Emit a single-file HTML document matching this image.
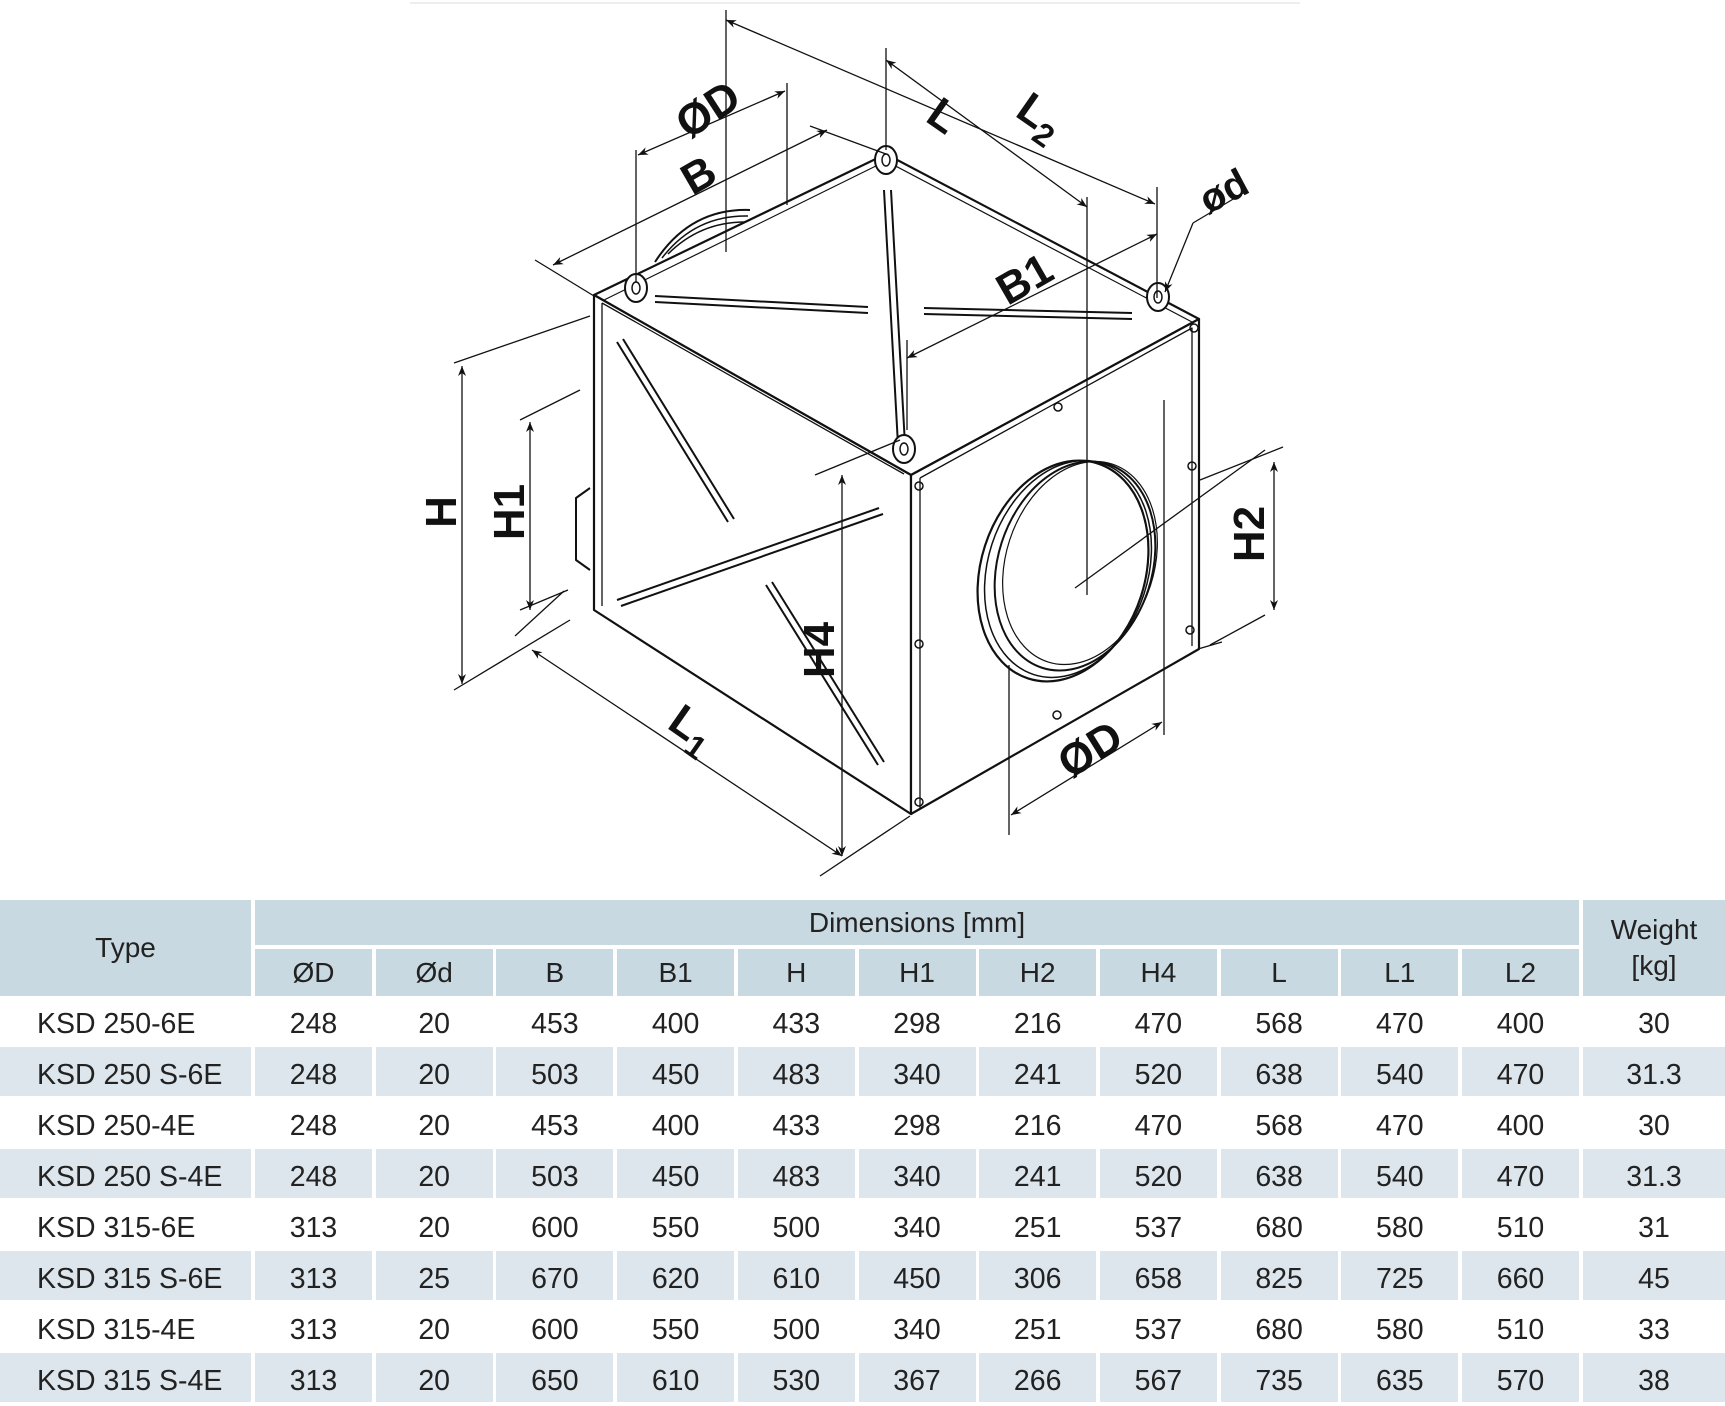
<!DOCTYPE html>
<html><head><meta charset="utf-8"><style>
body{margin:0;background:#fff;width:1725px;height:1406px;overflow:hidden;font-family:"Liberation Sans",Arial,sans-serif;}
svg{position:absolute;left:0;top:0}
.t{position:absolute;left:0;top:0;width:1725px;height:1406px}
.c{position:absolute;display:flex;align-items:center;justify-content:center;font-size:28px;color:#222}
.r{font-size:28.5px;padding-top:8px;box-sizing:border-box}
</style></head><body>
<svg width="1725" height="890" viewBox="0 0 1725 890">
<defs><marker id="a" viewBox="0 0 10 10" refX="10" refY="5" markerWidth="14" markerHeight="10" orient="auto-start-reverse" markerUnits="userSpaceOnUse"><path d="M0,1 L10,5 L0,9 L3,5Z" fill="#111"/></marker></defs>
<line x1="410" y1="3" x2="1300" y2="3" stroke="#eee" stroke-width="2"/>
<g fill="none" stroke="#111" stroke-width="2.2" stroke-linejoin="round">
<path d="M655,262 Q690,208 750,210" stroke-width="2"/><path d="M662,258 Q695,215 748,216" stroke-width="1.5"/><path d="M668,254 Q700,222 745,222" stroke-width="1.5"/>
<path d="M594,295 L886,154 L1199,319 L911,475 Z" fill="#fff"/>
<path d="M600,302 L886,161 L1192,322" stroke-width="1.2"/>
<path d="M594,295 L911,475 L911,814 L594,610 Z" fill="#fff"/>
<path d="M602,303 L904,474 M602,303 L602,606" stroke-width="1.3"/>
<path d="M911,475 L1199,319 L1199,649 L911,814 Z" fill="#fff"/>
<path d="M920,478 L1192,328 L1192,646 M920,478 L920,808" stroke-width="1.3"/>
<path d="M590,488 L576,498 L576,560 L590,570" stroke-width="2"/>
<g stroke-width="2">
<path d="M655,296 L868,307 M655,302 L868,313"/>
<path d="M924,308 L1132,313 M924,314 L1132,319"/>
<path d="M884,190 L898,445 M891,190 L905,445"/>
<path d="M617,342 L728,522 M623,339 L734,519"/>
<path d="M617,600 L879,508 M621,606 L883,514"/>
<path d="M766,585 L878,765 M772,582 L884,762"/>
</g>
<g stroke-width="2" fill="#fff">
<ellipse cx="636" cy="288" rx="11" ry="14"/><ellipse cx="886" cy="160" rx="11" ry="14"/><ellipse cx="1158" cy="297" rx="11" ry="14"/><ellipse cx="904" cy="449" rx="11" ry="14"/>
</g>
<g stroke-width="1.5"><ellipse cx="636" cy="288" rx="4" ry="6"/><ellipse cx="886" cy="160" rx="4" ry="6"/><ellipse cx="1158" cy="297" rx="4" ry="6"/><ellipse cx="904" cy="449" rx="4" ry="6"/></g>
<g stroke-width="1.5"><circle cx="1194" cy="328" r="4"/><circle cx="1058" cy="407" r="4"/><circle cx="1192" cy="466" r="4"/><circle cx="1190" cy="630" r="4"/><circle cx="1057" cy="715" r="4"/><circle cx="919" cy="486" r="4"/><circle cx="919" cy="644" r="4"/><circle cx="919" cy="802" r="4"/></g>
<ellipse cx="1063" cy="571" rx="82" ry="113" transform="rotate(18 1063 571)" stroke-width="2.2"/>
<ellipse cx="1068" cy="569" rx="80" ry="111" transform="rotate(18 1068 569)" stroke-width="1.5"/>
<ellipse cx="1075" cy="566" rx="77" ry="107" transform="rotate(18 1075 566)" stroke-width="2"/>
<ellipse cx="1080" cy="563" rx="74" ry="104" transform="rotate(18 1080 563)" stroke-width="1.2"/>
</g>
<g stroke="#111" stroke-width="1.3" fill="none">
<line x1="454" y1="363" x2="590" y2="316"/><line x1="454" y1="690" x2="570" y2="620"/>
<line x1="462" y1="366" x2="462" y2="684" marker-start="url(#a)" marker-end="url(#a)"/>
<line x1="520" y1="420" x2="580" y2="390"/><line x1="520" y1="610" x2="568" y2="590"/>
<line x1="530" y1="422" x2="530" y2="610" marker-start="url(#a)" marker-end="url(#a)"/>
<line x1="564" y1="591" x2="515" y2="636"/><line x1="910" y1="816" x2="820" y2="876"/>
<line x1="532" y1="650" x2="842" y2="856" marker-start="url(#a)" marker-end="url(#a)"/>
<line x1="815" y1="475" x2="900" y2="440"/>
<line x1="842" y1="475" x2="842" y2="856" marker-start="url(#a)" marker-end="url(#a)"/>
<line x1="1198" y1="649" x2="1222" y2="642"/><line x1="1210" y1="645" x2="1265" y2="615"/><line x1="1200" y1="480" x2="1283" y2="447"/>
<line x1="1274" y1="462" x2="1274" y2="610" marker-start="url(#a)" marker-end="url(#a)"/>
<line x1="1009" y1="665" x2="1009" y2="835"/><line x1="1164" y1="400" x2="1164" y2="735"/>
<line x1="1011" y1="815" x2="1162" y2="722" marker-start="url(#a)" marker-end="url(#a)"/>
<line x1="1075" y1="588" x2="1265" y2="450"/><line x1="1087" y1="197" x2="1087" y2="595"/>
<line x1="726" y1="10" x2="726" y2="252"/><line x1="636" y1="150" x2="636" y2="282"/>
<line x1="787" y1="83" x2="787" y2="205"/>
<line x1="638" y1="155" x2="785" y2="91" marker-start="url(#a)" marker-end="url(#a)"/>
<line x1="535" y1="260" x2="594" y2="296"/>
<line x1="553" y1="265" x2="827" y2="130" marker-start="url(#a)" marker-end="url(#a)"/>
<line x1="810" y1="126" x2="886" y2="154"/>
<line x1="886" y1="48" x2="886" y2="150"/>
<line x1="726" y1="20" x2="1155" y2="204" marker-start="url(#a)" marker-end="url(#a)"/>
<line x1="886" y1="60" x2="1087" y2="207" marker-start="url(#a)" marker-end="url(#a)"/>
<line x1="1157" y1="187" x2="1157" y2="298"/>
<line x1="907" y1="358" x2="1157" y2="234" marker-start="url(#a)" marker-end="url(#a)"/>
<line x1="907" y1="340" x2="907" y2="430"/>
<line x1="1245" y1="192" x2="1193" y2="223"/><line x1="1193" y1="223" x2="1165" y2="292" marker-end="url(#a)"/>
</g>
<g font-family="Liberation Sans,Arial,sans-serif" font-weight="bold" font-size="44" fill="#111" text-anchor="middle">
<text transform="translate(716,122) rotate(-33)">ØD</text>
<text transform="translate(706,188) rotate(-30)">B</text>
<text transform="translate(935,128) rotate(35)">L</text>
<text transform="translate(1032,128) rotate(35)">L<tspan font-size="32" dy="10">2</tspan></text>
<text transform="translate(1032,292) rotate(-30)">B1</text>
<text transform="translate(1230,203) rotate(-28)" font-size="40">ød</text>
<text transform="translate(456,512) rotate(-90)">H</text>
<text transform="translate(524,512) rotate(-90)">H1</text>
<text transform="translate(834,650) rotate(-90)">H4</text>
<text transform="translate(1264,534) rotate(-90)">H2</text>
<text transform="translate(684,740) rotate(35)">L<tspan font-size="32" dy="10">1</tspan></text>
<text transform="translate(1098,762) rotate(-32)">ØD</text>
</g>
</svg>
<div class="t">
<div style="position:absolute;left:0;top:900px;width:251px;height:96px;background:#c9d9e2"></div>
<div class="c" style="left:0;top:900px;width:251px;height:96px">Type</div>
<div style="position:absolute;left:255px;top:900px;width:1324px;height:45px;background:#c9d9e2"></div>
<div class="c" style="left:255px;top:900px;width:1324px;height:45px">Dimensions [mm]</div>
<div style="position:absolute;left:1583px;top:900px;width:142px;height:96px;background:#c9d9e2"></div>
<div class="c" style="left:1583px;top:900px;width:142px;height:96px;line-height:36px;text-align:center">Weight<br>[kg]</div>
<div id="g"></div>
</div>
<script>
var hdr=["ØD","Ød","B","B1","H","H1","H2","H4","L","L1","L2"];
var rows=[["KSD 250-6E",248,20,453,400,433,298,216,470,568,470,400,30],
["KSD 250 S-6E",248,20,503,450,483,340,241,520,638,540,470,31.3],
["KSD 250-4E",248,20,453,400,433,298,216,470,568,470,400,30],
["KSD 250 S-4E",248,20,503,450,483,340,241,520,638,540,470,31.3],
["KSD 315-6E",313,20,600,550,500,340,251,537,680,580,510,31],
["KSD 315 S-6E",313,25,670,620,610,450,306,658,825,725,660,45],
["KSD 315-4E",313,20,600,550,500,340,251,537,680,580,510,33],
["KSD 315 S-4E",313,20,650,610,530,367,266,567,735,635,570,38]];
var h="";
function X(i){return 255+i*120.7;}
for(var i=0;i<11;i++){h+='<div style="position:absolute;left:'+X(i)+'px;top:949px;width:117px;height:47px;background:#c9d9e2"></div><div class="c" style="left:'+X(i)+'px;top:949px;width:117px;height:47px">'+hdr[i]+'</div>';}
for(var r=0;r<8;r++){var y=996+r*51;var bg=r%2?'#dde6ec':'#fff';
if(r%2){h+='<div style="position:absolute;left:0;top:'+y+'px;width:251px;height:49px;background:'+bg+'"></div>';for(var i=0;i<11;i++)h+='<div style="position:absolute;left:'+X(i)+'px;top:'+y+'px;width:117px;height:49px;background:'+bg+'"></div>';h+='<div style="position:absolute;left:1583px;top:'+y+'px;width:142px;height:49px;background:'+bg+'"></div>';}
h+='<div class="c r" style="left:37px;top:'+y+'px;width:220px;height:49px;justify-content:flex-start">'+rows[r][0]+'</div>';
for(var i=0;i<11;i++)h+='<div class="c r" style="left:'+X(i)+'px;top:'+y+'px;width:117px;height:49px">'+rows[r][i+1]+'</div>';
h+='<div class="c r" style="left:1583px;top:'+y+'px;width:142px;height:49px">'+rows[r][12]+'</div>';}
document.getElementById('g').innerHTML=h;
</script>
</body></html>
